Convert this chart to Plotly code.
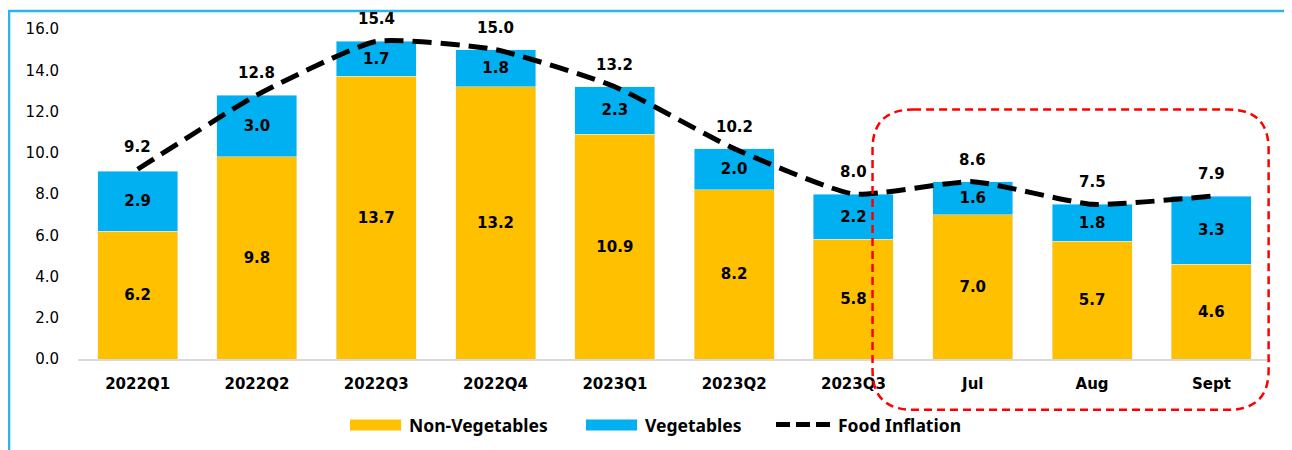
import plotly.graph_objects as go

categories = ["2022Q1", "2022Q2", "2022Q3", "2022Q4", "2023Q1", "2023Q2", "2023Q3", "Jul", "Aug", "Sept"]
non_veg = [6.2, 9.8, 13.7, 13.2, 10.9, 8.2, 5.8, 7.0, 5.7, 4.6]
veg = [2.9, 3.0, 1.7, 1.8, 2.3, 2.0, 2.2, 1.6, 1.8, 3.3]
food_inflation = [9.2, 12.8, 15.4, 15.0, 13.2, 10.2, 8.0, 8.6, 7.5, 7.9]
y_ticks = [0, 2, 4, 6, 8, 10, 12, 14, 16]
series_names = ["Non-Vegetables", "Vegetables", "Food Inflation"]
series_colors = ["#FFC000", "#00B0F0", "black"]

FONT = "DejaVu Sans"
lbl_font = dict(family=FONT, size=15, color="black")

fig = go.Figure()
fig.add_trace(go.Bar(
    x=categories, y=non_veg, name=series_names[0], marker_color=series_colors[0],
    text=[f"<b>{v:.1f}</b>" for v in non_veg], textposition="inside",
    insidetextanchor="middle", textangle=0, textfont=lbl_font, width=0.67,
))
fig.add_trace(go.Bar(
    x=categories, y=veg, name=series_names[1], marker_color=series_colors[1],
    text=[f"<b>{v:.1f}</b>" for v in veg], textposition="inside",
    insidetextanchor="middle", textangle=0, textfont=lbl_font, width=0.67,
))
fig.add_trace(go.Scatter(
    x=categories, y=food_inflation, name=series_names[2], mode="lines",
    line=dict(color="black", width=5, dash="19px,9px", shape="spline", smoothing=0.5),
))

for c, v in zip(categories, food_inflation):
    fig.add_annotation(x=c, y=v, text=f"<b>{v:.1f}</b>", showarrow=False,
                       yanchor="bottom", yshift=11, font=lbl_font)

# red dashed rounded rectangle (paper coords)
x0, x1, y0, y1 = 0.666, 0.998, -0.154, 0.756
rx, ry = 0.034, 0.12
path = (f"M {x0+rx},{y1} L {x1-rx},{y1} Q {x1},{y1} {x1},{y1-ry} "
        f"L {x1},{y0+ry} Q {x1},{y0} {x1-rx},{y0} L {x0+rx},{y0} "
        f"Q {x0},{y0} {x0},{y0+ry} L {x0},{y1-ry} Q {x0},{y1} {x0+rx},{y1} Z")
fig.add_shape(type="path", path=path, xref="paper", yref="paper",
              line=dict(color="#FF0000", width=2.5, dash="8px,5px"))

# light blue outer border (left and top)
fig.add_shape(type="path", path="M -0.0578,-0.4 L -0.0578,1.0545 L 1.1,1.0545",
              xref="paper", yref="paper", line=dict(color="#29B6F0", width=2.5))

# manual legend
leg_y0, leg_y1, leg_yc = -0.2169, -0.1837, -0.1988
swatches = [(0.228, 0.2708, 0.2758), (0.4258, 0.4686, 0.4736)]
for (sx0, sx1, tx), name, col in zip(swatches, series_names[:2], series_colors[:2]):
    fig.add_shape(type="rect", xref="paper", yref="paper", x0=sx0, x1=sx1,
                  y0=leg_y0, y1=leg_y1, fillcolor=col, line_width=0)
    fig.add_annotation(xref="paper", yref="paper", x=tx, y=leg_yc, text=f"<b>{name}</b>",
                       showarrow=False, xanchor="left", yanchor="middle",
                       font=dict(family="Noto Sans", size=17.5, color="black"))
fig.add_shape(type="line", xref="paper", yref="paper", x0=0.5851, x1=0.6320,
              y0=leg_yc, y1=leg_yc, line=dict(color="black", width=5, dash="14px,6px"))
fig.add_annotation(xref="paper", yref="paper", x=0.6354, y=leg_yc, text=f"<b>{series_names[2]}</b>",
                   showarrow=False, xanchor="left", yanchor="middle",
                   font=dict(family="Noto Sans", size=17.5, color="black"))

fig.update_layout(
    width=1284, height=442,
    barmode="stack", bargap=0.33,
    plot_bgcolor="white", paper_bgcolor="white",
    margin=dict(l=70, r=21, t=19, b=91),
    font=dict(family=FONT, size=15, color="black"),
    showlegend=False,
    xaxis=dict(showline=True, linecolor="#D9D9D9", linewidth=1.5, ticks="",
               tickfont=dict(family=FONT, size=15, color="black"),
               tickprefix="<b>", ticksuffix="</b>", ticklabelstandoff=10),
    yaxis=dict(range=[0, 16], tickvals=y_ticks, tickformat=".1f", showgrid=False,
               zeroline=False, showline=False,
               tickprefix="<b>", ticksuffix="</b>",
               tickfont=dict(family=FONT, size=15, color="black"), ticklabelstandoff=18),
)

fig.write_html("out.html")
